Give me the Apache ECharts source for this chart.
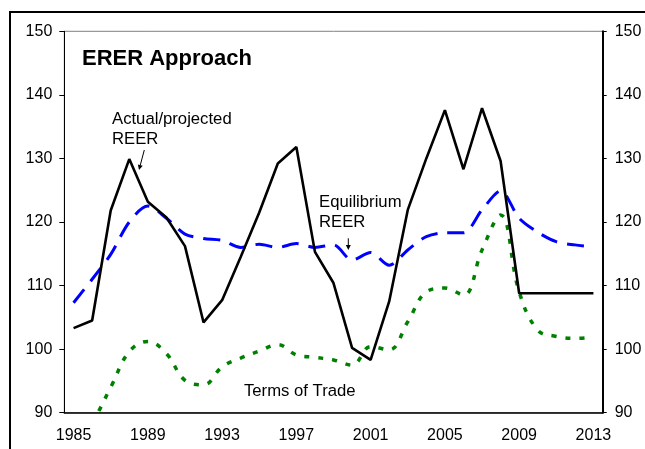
<!DOCTYPE html>
<html>
<head>
<meta charset="utf-8">
<script src="https://cdn.jsdelivr.net/npm/echarts@6/dist/echarts.min.js"></script>
<style>
html,body{margin:0;padding:0;background:#fff;}
#c{width:645px;height:449px;}
</style>
</head>
<body>
<div id="c"></div>
<script>
const years = ['1985','1986','1987','1988','1989','1990','1991','1992','1993','1994','1995','1996','1997','1998','1999','2000','2001','2002','2003','2004','2005','2006','2007','2008','2009','2010','2011','2012','2013'];
const actualREER = [103.3,104.5,121.8,129.9,123.2,120.7,116.2,104.2,107.7,114.5,121.5,129.2,131.8,115.3,110.4,100.2,98.3,107.5,121.9,130.0,137.6,128.3,137.9,129.6,108.8,108.8,108.8,108.8,108.8];
const equilibriumREER = [107.3,111.0,114.9,120.0,122.5,120.6,118.1,117.4,117.1,116.0,116.5,116.0,116.6,116.0,116.4,114.0,115.2,113.2,115.6,117.7,118.3,118.3,121.9,124.9,120.6,118.4,116.9,116.4,116.1];
const termsOfTrade = [85.0,88.5,94.0,99.6,101.2,99.3,95.1,94.4,97.2,98.6,99.7,100.7,99.1,98.7,98.3,97.5,100.4,99.9,104.3,109.0,109.6,108.5,115.6,121.1,109.0,103.0,102.0,101.7,101.9];
const yMin = 90, yMax = 150, yStep = 10;

const FONT = '"Liberation Sans", Arial, sans-serif';
const chart = echarts.init(document.getElementById('c'), null, {renderer: 'canvas'});

function arrow(x1, y1, x2, y2) {
  const dx = x2 - x1, dy = y2 - y1, L = Math.hypot(dx, dy);
  const ux = dx / L, uy = dy / L, hl = 5, hw = 2.5;
  const bx = x2 - ux * hl, by = y2 - uy * hl;
  return [
    {type: 'line', z: 10, shape: {x1: x1, y1: y1, x2: bx, y2: by}, style: {stroke: '#000', lineWidth: 1}},
    {type: 'polygon', z: 10, shape: {points: [[x2, y2], [bx - uy * hw, by + ux * hw], [bx + uy * hw, by - ux * hw]]}, style: {fill: '#000'}}
  ];
}
function label(text, x, y, size, weight) {
  return {type: 'text', z: 10, x: x, y: y, style: {text: text, fontSize: size, fontFamily: FONT, fontWeight: weight || 'normal', fill: '#000', verticalAlign: 'middle', align: 'left'}};
}

const axisLabelStyle = {color: '#000', fontSize: 16, fontFamily: FONT};

chart.setOption({
  animation: false,
  backgroundColor: '#fff',
  grid: {left: 64.3, top: 31.3, right: 42.3, bottom: 36.3, show: true, borderColor: '#808080', borderWidth: 1, backgroundColor: 'transparent'},
  xAxis: {
    type: 'category', data: years, boundaryGap: true,
    axisLine: {lineStyle: {color: '#000', width: 1.5}},
    axisTick: {interval: 3, length: 4, lineStyle: {color: '#000', width: 1}},
    axisLabel: Object.assign({interval: 3, margin: 15}, axisLabelStyle),
    splitLine: {show: false}
  },
  yAxis: [
    {type: 'value', min: yMin, max: yMax, interval: yStep, position: 'left',
     axisLine: {show: true, lineStyle: {color: '#000', width: 1}},
     axisTick: {show: true, length: 5, lineStyle: {color: '#000'}},
     axisLabel: Object.assign({margin: 12}, axisLabelStyle),
     splitLine: {show: false}},
    {type: 'value', min: yMin, max: yMax, interval: yStep, position: 'right',
     axisLine: {show: true, lineStyle: {color: '#000', width: 2}},
     axisTick: {show: true, length: 4, lineStyle: {color: '#000'}},
     axisLabel: Object.assign({margin: 12}, axisLabelStyle),
     splitLine: {show: false}}
  ],
  series: [
    {name: 'Terms of Trade', type: 'line', data: termsOfTrade, showSymbol: false, smooth: 0.4,
     lineStyle: {color: '#008000', width: 3.5, type: [5, 9], cap: 'butt'}, z: 2},
    {name: 'Equilibrium REER', type: 'line', data: equilibriumREER, showSymbol: false, smooth: 0.3,
     lineStyle: {color: '#0000FF', width: 3, type: [17, 10], cap: 'butt'}, z: 3},
    {name: 'Actual/projected REER', type: 'line', data: actualREER, showSymbol: false, smooth: false,
     lineStyle: {color: '#000', width: 2.6}, z: 4}
  ],
  graphic: [
    {type: 'rect', z: -1, shape: {x: 10, y: 12, width: 700, height: 500}, style: {fill: 'none', stroke: '#000', lineWidth: 2}},
    label('ERER Approach', 82, 59, 22, 'bold'),
    label('Actual/projected', 112, 119.2, 16.7),
    label('REER', 112, 139.2, 16.7),
    label('Equilibrium', 319, 202.5, 16.7),
    label('REER', 319, 222.5, 16.7),
    label('Terms of Trade', 244, 390.9, 16.7)
  ].concat(arrow(144.3, 150, 139, 170)).concat(arrow(348.3, 238.3, 348.3, 250))
});
</script>
</body>
</html>
